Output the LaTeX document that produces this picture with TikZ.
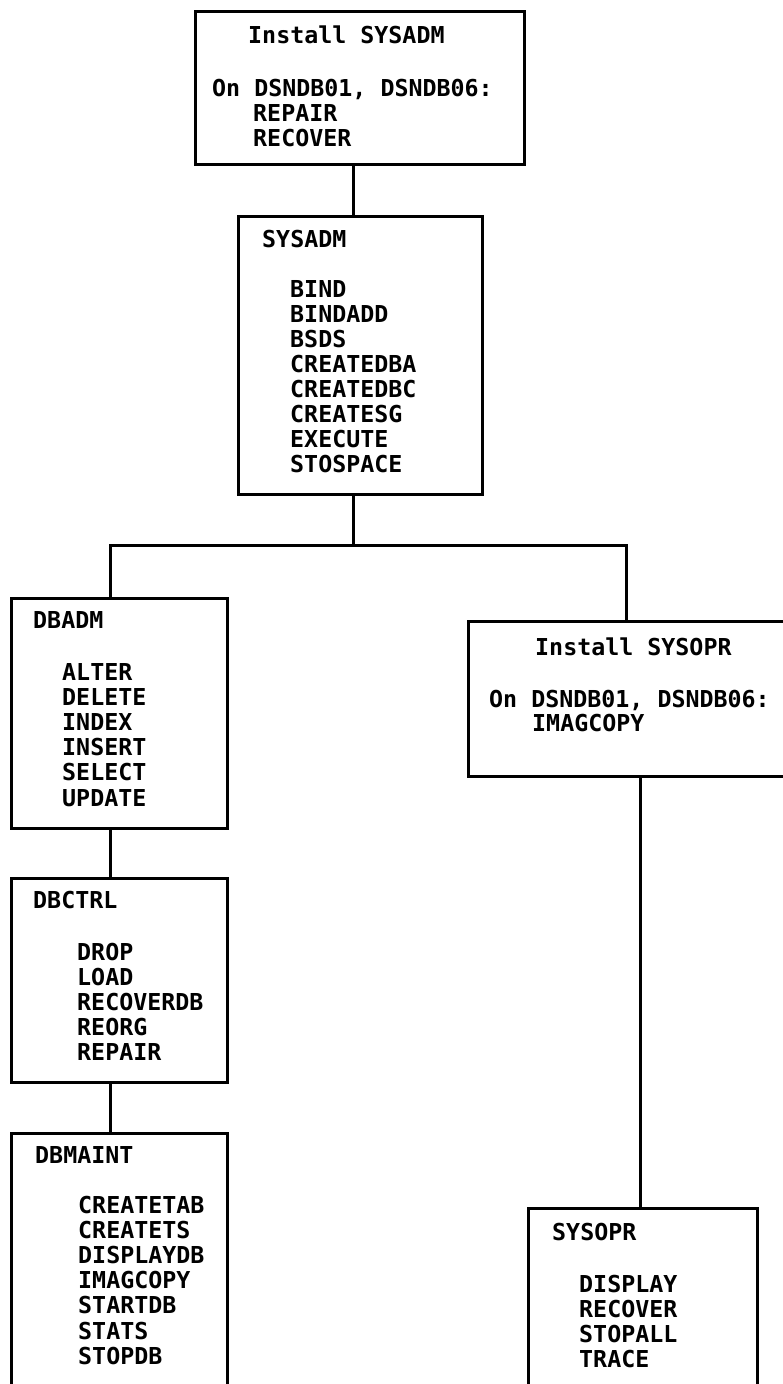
\documentclass[tikz,border=0pt]{standalone}
\usepackage{fontspec}
\newfontfamily\ibmfont{DejaVu Sans Mono}
\begin{document}
\begin{tikzpicture}[x=1pt,y=-1pt,
  box/.style={draw, line width=3pt, anchor=north west, inner sep=0pt},
  conn/.style={line width=3pt},
  txt/.style={anchor=base west, inner sep=0pt, font=\ibmfont\bfseries\fontsize{23.3}{25}\selectfont}]
\useasboundingbox (0,0) rectangle (783,1384);
\clip (0,0) rectangle (783,1384);
% boxes
\node[box, minimum width=329pt, minimum height=153pt] (b1) at (194,10) {};
\node[box, minimum width=244pt, minimum height=278pt] (b2) at (237,215) {};
\node[box, minimum width=216pt, minimum height=230pt] (dbadm) at (10,597) {};
\node[box, minimum width=216pt, minimum height=204pt] (dbctrl) at (10,877) {};
\node[box, minimum width=216pt, minimum height=300pt] (dbmaint) at (10,1132) {};
\node[box, minimum width=340pt, minimum height=155pt] (isysopr) at (467,620) {};
\node[box, minimum width=229pt, minimum height=250pt] (sysopr) at (527,1207) {};
% junctions
\coordinate (jc) at (353,545);
\coordinate (jl) at (110,545);
\coordinate (jr) at (626,545);
\coordinate (jo) at (640,0);
% connectors
\draw[conn] (b1.south -| jc) -- (b2.north -| jc);
\draw[conn] (b2.south -| jc) -- (jc);
\draw[conn] (dbadm.north -| jl) -- (jl) -- (jr) -- (isysopr.north -| jr);
\draw[conn] (dbadm.south -| jl) -- (dbctrl.north -| jl);
\draw[conn] (dbctrl.south -| jl) -- (dbmaint.north -| jl);
\draw[conn] (isysopr.south -| jo) -- (sysopr.north -| jo);
% texts box 1
\node[txt] (t1a) at (248,43) {Install SYSADM};
\node[txt] (t1b) at (212,96) {On DSNDB01, DSNDB06:};
\node[txt] (t1c) at (253,121) {REPAIR};
\node[txt] (t1d) at (253,146) {RECOVER};
% box 2
\node[txt] (t2) at (262,247) {SYSADM};
\foreach \t [count=\i] in {BIND,BINDADD,BSDS,CREATEDBA,CREATEDBC,CREATESG,EXECUTE,STOSPACE}
  \node[txt] (t2-\i) at (290,{297+25.1*(\i-1)}) {\t};
% DBADM
\node[txt] (t3) at (33,628) {DBADM};
\foreach \t [count=\i] in {ALTER,DELETE,INDEX,INSERT,SELECT,UPDATE}
  \node[txt] (t3-\i) at (62,{680+25.2*(\i-1)}) {\t};
% DBCTRL
\node[txt] (t4) at (33,908) {DBCTRL};
\foreach \t [count=\i] in {DROP,LOAD,RECOVERDB,REORG,REPAIR}
  \node[txt] (t4-\i) at (77,{960+25.2*(\i-1)}) {\t};
% DBMAINT
\node[txt] (t5) at (35,1163) {DBMAINT};
\foreach \t [count=\i] in {CREATETAB,CREATETS,DISPLAYDB,IMAGCOPY,STARTDB,STATS,STOPDB}
  \node[txt] (t5-\i) at (78,{1213+25.2*(\i-1)}) {\t};
% Install SYSOPR
\node[txt] (t6a) at (535,655) {Install SYSOPR};
\node[txt] (t6b) at (489,707) {On DSNDB01, DSNDB06:};
\node[txt] (t6c) at (532,731) {IMAGCOPY};
% SYSOPR
\node[txt] (t7) at (552,1240) {SYSOPR};
\foreach \t [count=\i] in {DISPLAY,RECOVER,STOPALL,TRACE}
  \node[txt] (t7-\i) at (579,{1292+25*(\i-1)}) {\t};
\end{tikzpicture}
\end{document}
